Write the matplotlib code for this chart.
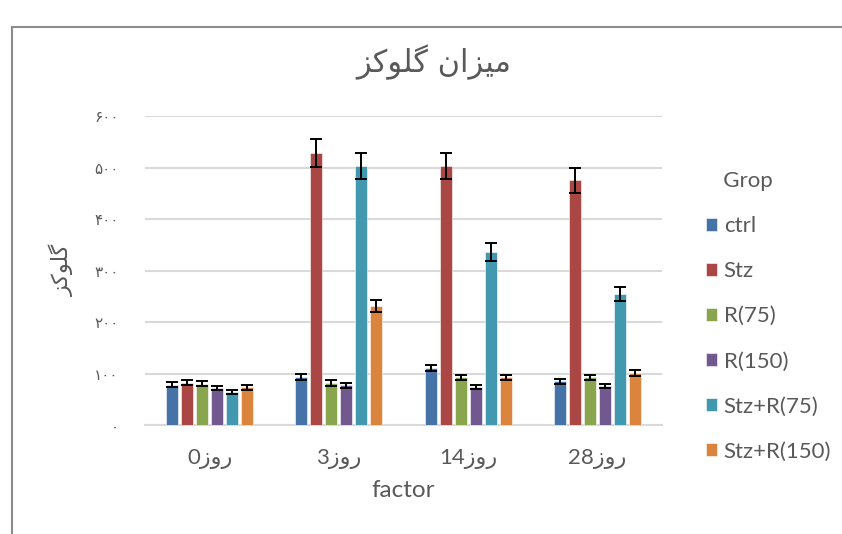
import numpy as np
import matplotlib.pyplot as plt
from matplotlib.lines import Line2D

# Persian strings are written in visual order with presentation forms,
# because matplotlib does no Arabic shaping or bidi.
title_txt = "\uFEB0\uFB90\uFEEE\uFEE0\uFB94 \uFEE5\uFE8D\uFEB0\uFBFF\uFEE3"   # میزان گلوکز
ylabel_txt = "\uFEB0\uFB90\uFEEE\uFEE0\uFB94"                              # گلوکز
roz = "\uFEAF\uFEED\uFEAD"                                                  # روز
days = ["0", "3", "14", "28"]
groups = [d + roz for d in days]
ytick_vals = [0, 100, 200, 300, 400, 500, 600]
ytick_txt = ["\u06F0", "\u06F1\u06F0\u06F0", "\u06F2\u06F0\u06F0", "\u06F3\u06F0\u06F0",
             "\u06F4\u06F0\u06F0", "\u06F5\u06F0\u06F0", "\u06F6\u06F0\u06F0"]

series = ["ctrl", "Stz", "R(75)", "R(150)", "Stz+R(75)", "Stz+R(150)"]
ctrl = [79, 94, 111, 85]
stz = [83, 528, 503, 475]
r75 = [81, 82, 93, 93]
r150 = [73, 78, 75, 77]
stz_r75 = [64, 503, 336, 255]
stz_r150 = [74, 232, 93, 101]

ctrl_err = [5, 6, 6, 5]
stz_err = [5, 27, 25, 24]
r75_err = [5, 5, 5, 5]
r150_err = [4, 5, 4, 4]
stz_r75_err = [4, 25, 17, 13]
stz_r150_err = [5, 12, 5, 6]

values = [ctrl, stz, r75, r150, stz_r75, stz_r150]
errors = [ctrl_err, stz_err, r75_err, r150_err, stz_r75_err, stz_r150_err]
colors = ["#4572A7", "#AA4643", "#89A54E", "#71588F", "#4198AF", "#DB843D"]

gray = "#595959"
grid = "#d9d9d9"

fig = plt.figure(figsize=(8.42, 5.34), dpi=100)
ax = fig.add_axes([145/842, 1-425.3/534, 517/842, 309.3/534])

x = np.arange(len(groups))
pitch = 0.116
w = 0.094
handles = []
for i, (vals, errs, c) in enumerate(zip(values, errors, colors)):
    b = ax.bar(x + (i - 2.5)*pitch, vals, w, color=c, edgecolor="white", linewidth=0.4,
               yerr=errs, error_kw=dict(ecolor="black", elinewidth=1.4, capsize=4.5, capthick=1.4),
               zorder=3, label=series[i])
    handles.append(b)

ax.set_xlim(-0.5, 3.5)
ax.set_ylim(0, 600)
ax.set_yticks(ytick_vals)
ax.set_yticklabels(ytick_txt, family=["DejaVu Sans"], fontsize=11, color=gray)
ax.set_xticks(x)
ax.set_xticklabels(groups, family=["Lato", "DejaVu Sans"], fontsize=16, color=gray)
ax.tick_params(axis="y", length=0, pad=19)
ax.tick_params(axis="x", length=0, pad=17)
ax.grid(axis="y", color=grid, linewidth=1.5, zorder=0)
for s in ["top", "right", "left"]:
    ax.spines[s].set_visible(False)
ax.spines["bottom"].set_color(grid)
ax.spines["bottom"].set_linewidth(1.5)

ax.set_xlabel("factor", family="Lato", fontsize=17.5, color=gray, labelpad=8)
fig.text(62/842, 1-270/534, ylabel_txt, rotation=90, ha="center", va="center",
         family="DejaVu Sans", fontsize=16, color=gray)
fig.text(434/842, 1-62/534, title_txt, ha="center", va="center",
         family="DejaVu Sans", fontsize=22, color=gray)

leg = fig.legend(handles=handles, labels=series, title="Grop", loc="upper left",
                 bbox_to_anchor=(686/842, 1-151/534), frameon=False,
                 prop=dict(family="Lato", size=16), title_fontproperties=dict(family="Lato", size=16),
                 handlelength=0.5, handleheight=0.5, handletextpad=0.3, labelspacing=1.13,
                 alignment="left")
for t in leg.get_texts():
    t.set_color(gray)
leg.get_title().set_color(gray)
leg.get_title().set_text("   Grop")

# outer chart frame (only top and left edges visible)
fig.add_artist(Line2D([12/842, 12/842], [0, 1-27/534], transform=fig.transFigure, color="#8c8c8c", linewidth=1.5))
fig.add_artist(Line2D([12/842, 1], [1-27/534, 1-27/534], transform=fig.transFigure, color="#8c8c8c", linewidth=1.5))

fig.savefig("out.png", dpi=100)
